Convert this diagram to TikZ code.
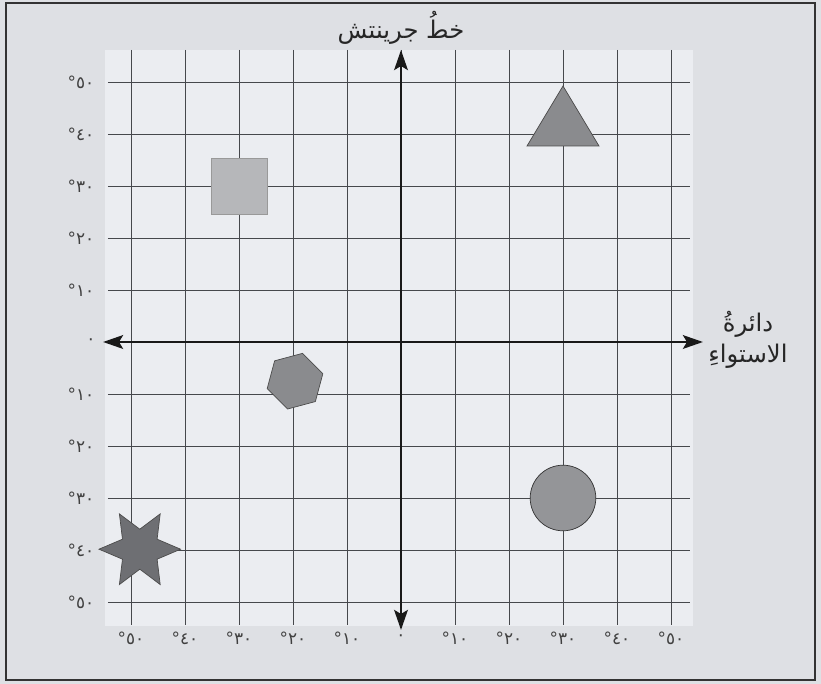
\documentclass[tikz,border=0pt]{standalone}
\usepackage{fontspec}
\newfontfamily\arabicfont[Script=Arabic]{DejaVu Sans}
\newfontfamily\digitfont{DejaVu Sans}
\TeXXeTstate=1
\usetikzlibrary{arrows.meta}
\definecolor{paper}{RGB}{222,224,228}
\definecolor{sheet}{RGB}{235,237,241}
\definecolor{gridline}{RGB}{70,72,76}
\definecolor{lightshape}{RGB}{182,183,186}
\definecolor{midshape}{RGB}{138,139,142}
\definecolor{circshape}{RGB}{148,149,152}
\definecolor{darkshape}{RGB}{110,111,115}

\begin{document}
\begin{tikzpicture}[
  gridln/.style={gridline, line width=0.6pt},
  axis/.style={{Stealth[length=5mm,width=3.4mm,inset=1mm]}-{Stealth[length=5mm,width=3.4mm,inset=1mm]}, line width=2pt, black!90},
  deg/.style={font=\digitfont\large, text=black!75, inner sep=1pt},
  title/.style={font=\arabicfont\LARGE, text=black!85, align=center},
  shp/.style={draw=black!70, line width=0.5pt}
]
\useasboundingbox (-10.025,-8.55) rectangle (10.5,8.55);
\fill[paper] (-10.025,-8.55) rectangle (10.5,8.55);
\draw[black!80, line width=1pt, fill=paper] (-9.875,-8.45) rectangle (10.35,8.475);
\fill[sheet] (-7.4,-7.1) rectangle (7.3,7.3);

%% Grid
\foreach \i in {-5,...,5}
  \draw[gridln] (\i*1.35,7.3) -- (\i*1.35,-7.075);
\foreach \j in {-5,...,5}
  \draw[gridln] (-7.325,\j*1.3) -- (7.225,\j*1.3);

%% Axes
\coordinate (xl) at (-7.45,0);
\coordinate (xr) at (7.55,0);
\coordinate (yt) at (0,7.3);
\coordinate (yb) at (0,-7.2);
\draw[axis] (xl) -- (xr);
\draw[axis] (yb) -- (yt);

%% Degree labels
\foreach \j/\d in {1/١,2/٢,3/٣,4/٤,5/٥} {
  \node[deg] (yn\j) at (-8.0,\j*1.3) {°\d٠};
  \node[deg] (ys\j) at (-8.0,-\j*1.3) {°\d٠};
  \node[deg] (xw\j) at (-\j*1.35,-7.4) {°\d٠};
  \node[deg] (xe\j) at (\j*1.35,-7.4) {°\d٠};
}
\node[deg] (y0) at (-7.75,0) {٠};
\node[deg] (x0) at (0,-7.4) {٠};

%% Axis titles
\node[title] (gw) at (0,7.85) {\beginR خطُ جرينتش\endR};
\node[title] (eq) at (8.675,0.06) {\beginR دائرةُ\endR\\\beginR الاستواءِ\endR};

%% Square
\draw[shp, draw=black!40, fill=lightshape] (-4.75,3.2) rectangle (-3.35,4.6);
%% Triangle
\draw[shp, fill=midshape] (4.05,6.4) -- (4.95,4.9) -- (3.15,4.9) -- cycle;
%% Hexagon
\draw[shp, fill=midshape, shift={(-2.65,-0.98)}]
  (15:0.72) -- (75:0.72) -- (135:0.72) -- (195:0.72) -- (255:0.72) -- (315:0.72) -- cycle;
%% Circle
\draw[shp, draw=black!80, fill=circshape] (4.05,-3.9) circle (0.82);
%% Star
\draw[shp, fill=darkshape, shift={(-6.53,-5.18)}]
  (0:1.02) \foreach \a in {30,90,...,330} { -- (\a:0.5) -- (\a+30:1.02) } -- cycle;

\end{tikzpicture}
\end{document}
